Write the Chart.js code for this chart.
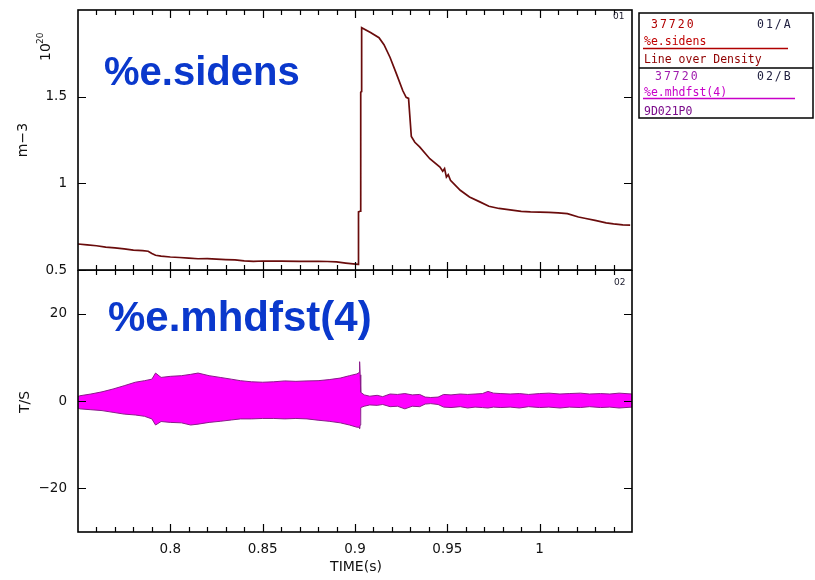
<!DOCTYPE html>
<html>
<head>
<meta charset="utf-8">
<script src="https://cdn.jsdelivr.net/npm/chart.js@4.4.1/dist/chart.umd.min.js"></script>
<style>
  body { margin: 0; background: #fff; }
  #wrap { position: relative; width: 815px; height: 580px; }
  canvas { position: absolute; left: 0; }
</style>
</head>
<body>
<div id="wrap">
  <canvas id="topChart" width="815" height="290" style="top:0"></canvas>
  <canvas id="bottomChart" width="815" height="310" style="top:270px"></canvas>
</div>
<script>
// axis ranges and tick labels
const timeRange = [0.75, 1.05];
const timeTicks = [0.8, 0.85, 0.9, 0.95, 1];
const densRange = [0.5, 2.0];
const densTicks = [0.5, 1, 1.5];
const mhdRange = [-30, 30];
const mhdTicks = [-20, 0, 20];

// %e.sidens - line over density (10^20 m-3)
const densTime = [0.750, 0.755, 0.760, 0.765, 0.770, 0.775, 0.780, 0.785, 0.788, 0.790,
  0.792, 0.795, 0.800, 0.805, 0.810, 0.815, 0.820, 0.825, 0.830, 0.835,
  0.840, 0.845, 0.850, 0.860, 0.870, 0.880, 0.885, 0.890, 0.895, 0.899,
  0.9017, 0.9019, 0.9030, 0.9031, 0.9035, 0.9036, 0.9084, 0.913, 0.9157, 0.919,
  0.9225, 0.9259, 0.9277, 0.9290, 0.9305, 0.9324, 0.935, 0.9405, 0.946, 0.9475,
  0.9485, 0.9495, 0.9505, 0.9517, 0.957, 0.962, 0.9676, 0.9725, 0.978, 0.985,
  0.990, 0.995, 1.000, 1.005, 1.010, 1.015, 1.021, 1.025, 1.030, 1.036,
  1.040, 1.045, 1.049];
const densValue = [0.650, 0.645, 0.640, 0.632, 0.628, 0.622, 0.615, 0.612, 0.608, 0.595,
  0.585, 0.580, 0.575, 0.572, 0.568, 0.565, 0.566, 0.563, 0.560, 0.558,
  0.553, 0.550, 0.552, 0.551, 0.550, 0.550, 0.549, 0.547, 0.540, 0.535,
  0.532, 0.835, 0.840, 1.525, 1.530, 1.898, 1.870, 1.840, 1.800, 1.726,
  1.630, 1.534, 1.496, 1.490, 1.270, 1.237, 1.210, 1.142, 1.094, 1.070,
  1.085, 1.036, 1.050, 1.017, 0.960, 0.921, 0.893, 0.868, 0.855, 0.845,
  0.838, 0.835, 0.834, 0.832, 0.830, 0.825, 0.806, 0.797, 0.786, 0.772,
  0.766, 0.760, 0.759];

// %e.mhdfst(4) - envelope of the fast MHD signal (T/S)
const mhdTime = [0.750, 0.751, 0.757, 0.763, 0.769, 0.775, 0.781, 0.786, 0.790, 0.792,
  0.795, 0.800, 0.806, 0.811, 0.815, 0.821, 0.827, 0.833, 0.838, 0.844,
  0.850, 0.856, 0.862, 0.868, 0.874, 0.880, 0.886, 0.892, 0.897, 0.9010,
  0.9022, 0.9025, 0.9028, 0.9031, 0.905, 0.908, 0.912, 0.915, 0.919, 0.923,
  0.927, 0.931, 0.935, 0.938, 0.941, 0.945, 0.948, 0.952, 0.957, 0.961,
  0.965, 0.969, 0.972, 0.975, 0.979, 0.984, 0.989, 0.994, 1.000, 1.005,
  1.011, 1.016, 1.022, 1.027, 1.033, 1.038, 1.043, 1.050];
const mhdUpper = [1.0, 1.2, 1.6, 2.1, 2.75, 3.5, 4.3, 4.65, 5.0, 6.4,
  5.4, 5.65, 5.8, 6.1, 6.4, 5.8, 5.4, 5.0, 4.65, 4.4,
  4.3, 4.4, 4.6, 4.5, 4.6, 4.65, 4.9, 5.25, 5.8, 6.2,
  6.5, 9.0, 6.0, 2.0, 1.4, 1.1, 1.3, 1.0, 1.6, 1.5,
  1.7, 1.4, 1.5, 0.9, 0.8, 0.9, 1.5, 1.4, 1.6, 1.5,
  1.6, 1.7, 2.2, 1.8, 1.7, 1.6, 1.7, 1.5, 1.7, 1.8,
  1.6, 1.7, 1.8, 1.6, 1.7, 1.6, 1.8, 1.6];
const mhdLower = [-1.6, -1.8, -2.0, -2.2, -2.6, -3.0, -3.2, -3.5, -4.1, -5.5,
  -4.7, -4.9, -5.0, -5.5, -5.3, -4.9, -4.65, -4.35, -4.1, -4.1,
  -4.0, -4.0, -4.1, -4.0, -4.1, -4.4, -4.65, -5.0, -5.5, -6.0,
  -6.0, -6.3, -5.5, -1.5, -1.2, -0.9, -1.0, -0.8, -1.3, -1.2,
  -1.8, -1.2, -1.3, -0.7, -0.6, -0.8, -1.4, -1.5, -1.3, -1.6,
  -1.4, -1.5, -1.6, -1.4, -1.5, -1.4, -1.6, -1.3, -1.5, -1.4,
  -1.6, -1.4, -1.5, -1.3, -1.5, -1.4, -1.6, -1.4];

const pts = (xs, ys) => xs.map((x, i) => ({ x, y: ys[i] }));
const tickFont = { family: 'DejaVu Sans', size: 13.5 };
const fmt = v => String(Math.round(v * 100) / 100).replace('-', '\u2212');
const noPad = s => { s.paddingTop = 0; s.paddingBottom = 0; s.paddingLeft = 0; s.paddingRight = 0; };

// frame + inward ticks on all four sides
const panelFrame = {
  id: 'panelFrame',
  afterDraw(chart, args, opts) {
    const { ctx, chartArea: a } = chart;
    const xs = chart.scales.x, ys = chart.scales.y;
    ctx.save();
    ctx.strokeStyle = '#000';
    ctx.lineWidth = 1.2;
    ctx.beginPath();
    for (let i = 76; i <= 104; i++) {
      const px = Math.round(xs.getPixelForValue(i / 100)) + 0.5;
      const len = i % 5 === 0 ? 8 : 5;
      ctx.moveTo(px, a.top); ctx.lineTo(px, a.top + len);
      ctx.moveTo(px, a.bottom); ctx.lineTo(px, a.bottom - len);
    }
    opts.yTicks.forEach(v => {
      const py = Math.round(ys.getPixelForValue(v)) + 0.5;
      ctx.moveTo(a.left, py); ctx.lineTo(a.left + 8, py);
      ctx.moveTo(a.right, py); ctx.lineTo(a.right - 8, py);
    });
    ctx.stroke();
    ctx.lineWidth = 1.6;
    ctx.strokeRect(a.left, a.top, a.right - a.left, a.bottom - a.top);
    ctx.restore();
    if (opts.decor) opts.decor(ctx, a);
  }
};

function rotText(ctx, txt, x, y, font) {
  ctx.save();
  ctx.translate(x, y);
  ctx.rotate(-Math.PI / 2);
  ctx.font = font;
  ctx.textAlign = 'center';
  ctx.textBaseline = 'middle';
  ctx.fillText(txt, 0, 0);
  ctx.restore();
}

function topDecor(ctx, a) {
  ctx.save();
  ctx.fillStyle = '#111';
  rotText(ctx, 'm\u22123', 23, 140, '14px "DejaVu Sans"');
  // 10^20 unit
  ctx.save();
  ctx.translate(50, 61);
  ctx.rotate(-Math.PI / 2);
  ctx.font = '14px "DejaVu Sans"';
  ctx.fillText('10', 0, 0);
  ctx.font = '9px "DejaVu Sans"';
  ctx.fillText('20', 17, -7);
  ctx.restore();

  ctx.fillStyle = '#223';
  ctx.font = '9px "DejaVu Sans"';
  ctx.fillText('01', 613, 19);

  ctx.fillStyle = '#0a38cc';
  ctx.font = 'bold 40px "Liberation Sans"';
  ctx.fillText('%e.sidens', 104, 85);

  // legend box
  ctx.strokeStyle = '#000';
  ctx.lineWidth = 1.5;
  ctx.strokeRect(639, 13, 174, 105);
  ctx.beginPath();
  ctx.moveTo(639, 68); ctx.lineTo(813, 68);
  ctx.stroke();

  ctx.font = '11.5px "DejaVu Sans Mono"';
  ctx.letterSpacing = '2px';
  ctx.fillStyle = '#b00000';
  ctx.fillText('37720', 651, 28);
  ctx.fillStyle = '#202040';
  ctx.fillText('01/A', 757, 28);
  ctx.fillStyle = '#a01cae';
  ctx.fillText('37720', 655, 80);
  ctx.fillStyle = '#202040';
  ctx.fillText('02/B', 757, 80);
  ctx.letterSpacing = '0px';

  ctx.fillStyle = '#c00000';
  ctx.fillText('%e.sidens', 644, 45);
  ctx.fillStyle = '#900000';
  ctx.fillText('Line over Density', 644, 63);
  ctx.fillStyle = '#c800c8';
  ctx.fillText('%e.mhdfst(4)', 644, 96);
  ctx.fillStyle = '#7a0a8a';
  ctx.fillText('9D021P0', 644, 115);

  ctx.lineWidth = 1.5;
  ctx.strokeStyle = '#b00000';
  ctx.beginPath(); ctx.moveTo(643, 48.5); ctx.lineTo(788, 48.5); ctx.stroke();
  ctx.strokeStyle = '#c800c8';
  ctx.beginPath(); ctx.moveTo(643, 98.5); ctx.lineTo(795, 98.5); ctx.stroke();
  ctx.restore();
}

function bottomDecor(ctx, a) {
  ctx.save();
  ctx.fillStyle = '#111';
  rotText(ctx, 'T/S', 25, 132, '14px "DejaVu Sans"');
  ctx.font = '14px "DejaVu Sans"';
  ctx.textAlign = 'center';
  ctx.fillText('TIME(s)', 356, 301);
  ctx.textAlign = 'left';
  ctx.fillStyle = '#223';
  ctx.font = '9px "DejaVu Sans"';
  ctx.fillText('02', 614, 15);
  ctx.fillStyle = '#0a38cc';
  ctx.font = 'bold 42px "Liberation Sans"';
  ctx.fillText('%e.mhdfst(4)', 108, 61);
  ctx.restore();
}

const yBase = (range, ticks) => ({
  type: 'linear', min: range[0], max: range[1],
  grid: { display: false, drawTicks: false },
  border: { display: false },
  afterBuildTicks: s => { s.ticks = ticks.map(v => ({ value: v })); },
  afterFit: s => { s.width = 78; noPad(s); },
  ticks: { padding: 11, color: '#111', font: tickFont, callback: fmt }
});

new Chart(document.getElementById('topChart'), {
  type: 'line',
  data: {
    datasets: [{
      data: pts(densTime, densValue),
      borderColor: '#6a0c0c',
      borderWidth: 1.7,
      pointRadius: 0,
      tension: 0
    }]
  },
  options: {
    responsive: false,
    animation: false,
    events: [],
    layout: { autoPadding: false, padding: { top: 10, right: 183, bottom: 20, left: 0 } },
    plugins: {
      legend: { display: false },
      tooltip: { enabled: false },
      panelFrame: { yTicks: densTicks, decor: topDecor }
    },
    scales: {
      x: { type: 'linear', min: timeRange[0], max: timeRange[1], display: false },
      y: yBase(densRange, densTicks)
    }
  },
  plugins: [panelFrame]
});

new Chart(document.getElementById('bottomChart'), {
  type: 'line',
  data: {
    datasets: [{
      data: pts(mhdTime, mhdLower),
      borderColor: '#8a1a8a',
      borderWidth: 1,
      pointRadius: 0,
      tension: 0,
      fill: false
    }, {
      data: pts(mhdTime, mhdUpper),
      borderColor: '#8a1a8a',
      backgroundColor: '#ff00ff',
      borderWidth: 1,
      pointRadius: 0,
      tension: 0,
      fill: '-1'
    }]
  },
  options: {
    responsive: false,
    animation: false,
    events: [],
    layout: { autoPadding: false, padding: { top: 0, right: 183, bottom: 0, left: 0 } },
    plugins: {
      legend: { display: false },
      tooltip: { enabled: false },
      panelFrame: { yTicks: mhdTicks, decor: bottomDecor }
    },
    scales: {
      x: {
        type: 'linear', min: timeRange[0], max: timeRange[1],
        grid: { display: false, drawTicks: false },
        border: { display: false },
        afterBuildTicks: s => { s.ticks = timeTicks.map(v => ({ value: v })); },
        afterFit: s => { s.height = 48; noPad(s); },
        ticks: { padding: 9, color: '#111', font: tickFont, callback: fmt, maxRotation: 0 }
      },
      y: yBase(mhdRange, mhdTicks)
    }
  },
  plugins: [panelFrame]
});
</script>
</body>
</html>
